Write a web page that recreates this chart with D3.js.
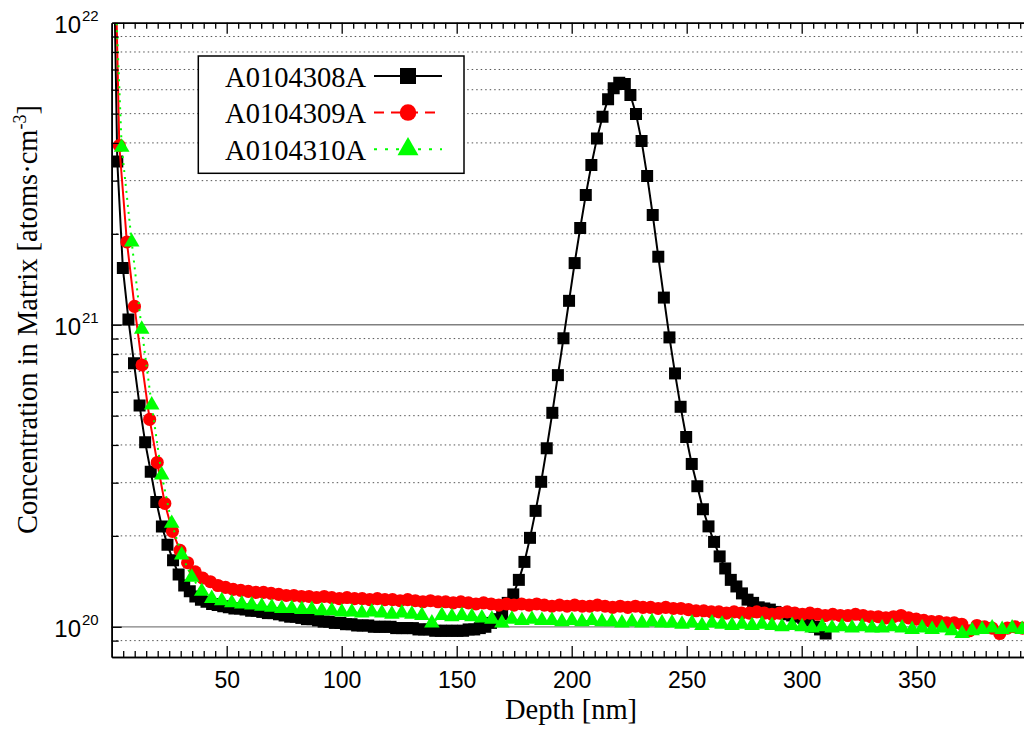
<!DOCTYPE html>
<html>
<head>
<meta charset="utf-8">
<script src="https://cdn.jsdelivr.net/npm/d3@7"></script>
<style>
  body { margin: 0; background: #fff; }
  svg { display: block; }
</style>
</head>
<body>
<svg id="chart" width="1024" height="740"></svg>
<script>
// ---- data -------------------------------------------------------------
const seriesNames = ["A0104308A", "A0104309A", "A0104310A"];

// depth sampling step of each profile (nm); every profile starts at 0 nm
const depthSteps = [2.425, 3.3, 4.35];

// concentration in matrix, atoms/cm^3
const conc308 = [
  4.5e22, 3.47e21, 1.54e21, 1.04e21, 7.45e20, 5.40e20, 4.08e20, 3.26e20, 2.59e20, 2.15e20,
  1.87e20, 1.66e20, 1.49e20, 1.37e20, 1.31e20, 1.26e20, 1.23e20, 1.21e20, 1.19e20, 1.18e20,
  1.17e20, 1.16e20, 1.15e20, 1.15e20, 1.14e20, 1.13e20, 1.13e20, 1.12e20, 1.11e20, 1.11e20,
  1.10e20, 1.09e20, 1.08e20, 1.08e20, 1.07e20, 1.06e20, 1.06e20, 1.05e20, 1.04e20, 1.04e20,
  1.03e20, 1.03e20, 1.02e20, 1.02e20, 1.01e20, 1.01e20, 1.01e20, 1.00e20, 1.00e20, 1.00e20,
  1.00e20, 9.9e19, 9.9e19, 9.9e19, 9.9e19, 9.8e19, 9.8e19, 9.8e19, 9.7e19, 9.7e19,
  9.7e19, 9.7e19, 9.7e19, 9.7e19, 9.8e19, 9.8e19, 9.9e19, 1.00e20, 1.03e20, 1.06e20,
  1.10e20, 1.20e20, 1.28e20, 1.43e20, 1.64e20, 1.97e20, 2.42e20, 3.02e20, 3.90e20, 5.11e20,
  6.81e20, 9.02e20, 1.20e21, 1.60e21, 2.09e21, 2.69e21, 3.38e21, 4.14e21, 4.88e21, 5.58e21,
  6.07e21, 6.33e21, 6.27e21, 5.76e21, 4.99e21, 4.06e21, 3.11e21, 2.31e21, 1.68e21, 1.23e21,
  9.08e20, 6.90e20, 5.35e20, 4.25e20, 3.46e20, 2.92e20, 2.45e20, 2.15e20, 1.91e20, 1.71e20,
  1.56e20, 1.43e20, 1.36e20, 1.29e20, 1.23e20, 1.20e20, 1.16e20, 1.15e20, 1.14e20, 1.12e20,
  1.11e20, 1.10e20, 1.09e20, 1.08e20, 1.07e20, 1.05e20, 1.00e20, 9.8e19, 9.5e19
];

const conc309 = [
  6.0e22, 3.92e21, 1.88e21, 1.15e21, 7.36e20, 4.86e20, 3.50e20, 2.56e20, 2.07e20, 1.79e20,
  1.63e20, 1.52e20, 1.45e20, 1.41e20, 1.37e20, 1.35e20, 1.33e20, 1.32e20, 1.31e20, 1.30e20,
  1.30e20, 1.29e20, 1.28e20, 1.27e20, 1.27e20, 1.26e20, 1.26e20, 1.25e20, 1.26e20, 1.25e20,
  1.24e20, 1.25e20, 1.24e20, 1.24e20, 1.23e20, 1.24e20, 1.23e20, 1.23e20, 1.22e20, 1.23e20,
  1.22e20, 1.21e20, 1.22e20, 1.21e20, 1.21e20, 1.20e20, 1.21e20, 1.20e20, 1.19e20, 1.20e20,
  1.19e20, 1.18e20, 1.19e20, 1.18e20, 1.19e20, 1.18e20, 1.19e20, 1.18e20, 1.17e20, 1.18e20,
  1.17e20, 1.18e20, 1.17e20, 1.17e20, 1.18e20, 1.17e20, 1.16e20, 1.17e20, 1.16e20, 1.17e20,
  1.16e20, 1.16e20, 1.15e20, 1.16e20, 1.15e20, 1.15e20, 1.14e20, 1.13e20, 1.13e20, 1.12e20,
  1.12e20, 1.11e20, 1.12e20, 1.11e20, 1.11e20, 1.12e20, 1.11e20, 1.10e20, 1.11e20, 1.12e20,
  1.11e20, 1.10e20, 1.11e20, 1.10e20, 1.09e20, 1.10e20, 1.09e20, 1.09e20, 1.10e20, 1.09e20,
  1.08e20, 1.08e20, 1.07e20, 1.08e20, 1.09e20, 1.07e20, 1.06e20, 1.05e20, 1.04e20, 1.04e20,
  1.03e20, 1.03e20, 1.02e20, 9.7e19, 1.01e20, 1.00e20, 9.9e19, 9.5e19, 9.9e19, 1.00e20,
  9.9e19
];

const conc310 = [
  2.6e22, 3.87e21, 1.88e21, 9.66e20, 5.42e20, 3.18e20, 2.20e20, 1.73e20, 1.46e20, 1.31e20,
  1.24e20, 1.22e20, 1.20e20, 1.19e20, 1.18e20, 1.17e20, 1.16e20, 1.15e20, 1.15e20, 1.14e20,
  1.14e20, 1.13e20, 1.13e20, 1.12e20, 1.12e20, 1.11e20, 1.12e20, 1.11e20, 1.10e20, 1.11e20,
  1.10e20, 1.09e20, 1.03e20, 1.09e20, 1.08e20, 1.09e20, 1.08e20, 1.07e20, 1.06e20, 1.03e20,
  1.06e20, 1.05e20, 1.06e20, 1.05e20, 1.05e20, 1.04e20, 1.05e20, 1.04e20, 1.05e20, 1.04e20,
  1.04e20, 1.03e20, 1.04e20, 1.03e20, 1.04e20, 1.03e20, 1.03e20, 1.02e20, 1.03e20, 1.01e20,
  1.03e20, 1.02e20, 1.01e20, 1.02e20, 1.01e20, 1.02e20, 1.01e20, 1.00e20, 1.01e20, 1.00e20,
  9.9e19, 1.00e20, 9.9e19, 1.00e20, 9.9e19, 1.00e20, 9.9e19, 9.9e19, 1.00e20, 9.9e19,
  9.8e19, 9.9e19, 9.8e19, 9.9e19, 9.7e19, 9.5e19, 9.7e19, 9.8e19, 9.9e19, 9.8e19,
  9.9e19, 9.8e19
];

const xTickValues = [50, 100, 150, 200, 250, 300, 350];
const yTickExponents = [20, 21, 22];

// ---- layout -----------------------------------------------------------
const svg = d3.select("#chart");
const plot = { left: 111.7, right: 1024.8, top: 22.7, bottom: 657 };

const x = d3.scaleLinear().domain([0, 397]).range([plot.left, plot.right]);
const y = d3.scaleLog().domain([Math.pow(10, 19.9), 1e22]).range([plot.bottom, plot.top]);

const serif = "'Liberation Serif', 'Times New Roman', Times, serif";
const sans = "'Liberation Sans', Arial, Helvetica, sans-serif";

const styles = [
  { color: "#000000", symbol: d3.symbolSquare, size: 144, legendSize: 256, dash: null, legendDash: null },
  { color: "#ff0000", symbol: d3.symbolCircle, size: 135, legendSize: 215, dash: null, legendDash: "10,7" },
  { color: "#00ff00", symbol: d3.symbolTriangle, size: 105, legendSize: 190, dash: "2,5", legendDash: "3,8" }
];

const series = [conc308, conc309, conc310].map((vals, k) =>
  vals.map((v, i) => ({ depth: i * depthSteps[k], value: v }))
);

// ---- grid lines -------------------------------------------------------
const minorY = [];
[19, 20, 21].forEach(e => {
  for (let m = 2; m <= 9; m++) {
    const v = m * Math.pow(10, e);
    if (v > Math.pow(10, 19.9) * 1.02 && v < 1e22) minorY.push(v);
  }
});
const majorY = [1e20, 1e21];

const grid = svg.append("g");
grid.selectAll("line.minor").data(minorY).join("line")
  .attr("x1", plot.left).attr("x2", plot.right)
  .attr("y1", d => y(d)).attr("y2", d => y(d))
  .attr("stroke", "#555").attr("stroke-width", 1)
  .attr("stroke-dasharray", "1.5,3");
grid.selectAll("line.major").data(majorY).join("line")
  .attr("x1", plot.left).attr("x2", plot.right)
  .attr("y1", d => y(d)).attr("y2", d => y(d))
  .attr("stroke", "#808080").attr("stroke-width", 1.3);

// ---- data -------------------------------------------------------------
svg.append("clipPath").attr("id", "plotClip")
  .append("rect")
  .attr("x", plot.left).attr("y", plot.top)
  .attr("width", plot.right - plot.left).attr("height", plot.bottom - plot.top);

const dataLayer = svg.append("g").attr("clip-path", "url(#plotClip)");
const line = d3.line().x(d => x(d.depth)).y(d => y(d.value));

series.forEach((pts, k) => {
  const st = styles[k];
  const g = dataLayer.append("g");
  g.append("path")
    .datum(pts)
    .attr("d", line)
    .attr("fill", "none")
    .attr("stroke", st.color)
    .attr("stroke-width", 2)
    .attr("stroke-dasharray", st.dash);
  g.selectAll("path.mark").data(pts).join("path")
    .attr("class", "mark")
    .attr("transform", d => `translate(${x(d.depth)},${y(d.value)})`)
    .attr("d", d3.symbol().type(st.symbol).size(st.size))
    .attr("fill", st.color);
});

// ---- axes -------------------------------------------------------------
const minorX = d3.range(5, 397, 5).filter(v => v % 50 !== 0);
const majorXTicks = d3.range(50, 397, 50);

function styleAxis(g) {
  g.selectAll(".domain").attr("stroke", "#000").attr("stroke-width", 1.6);
  g.selectAll(".tick line").attr("stroke", "#000").attr("stroke-width", 1.3);
}

// bottom
svg.append("g").attr("transform", `translate(0,${plot.bottom})`)
  .call(d3.axisBottom(x).tickValues(minorX).tickSizeInner(-6).tickSizeOuter(0).tickFormat(""))
  .call(styleAxis);
svg.append("g").attr("transform", `translate(0,${plot.bottom})`)
  .call(d3.axisBottom(x).tickValues(xTickValues).tickSizeInner(-11).tickSizeOuter(0)
    .tickPadding(15).tickFormat(d3.format("d")))
  .call(styleAxis)
  .call(g => g.selectAll(".tick text")
    .attr("font-family", sans).attr("font-size", 23).attr("fill", "#000"));

// top
svg.append("g").attr("transform", `translate(0,${plot.top})`)
  .call(d3.axisTop(x).tickValues(minorX).tickSizeInner(-6).tickSizeOuter(0).tickFormat(""))
  .call(styleAxis);
svg.append("g").attr("transform", `translate(0,${plot.top})`)
  .call(d3.axisTop(x).tickValues(majorXTicks).tickSizeInner(-11).tickSizeOuter(0).tickFormat(""))
  .call(styleAxis);

// left
svg.append("g").attr("transform", `translate(${plot.left},0)`)
  .call(d3.axisLeft(y).tickValues(minorY).tickSizeInner(-7).tickSizeOuter(0).tickFormat(""))
  .call(styleAxis);
svg.append("g").attr("transform", `translate(${plot.left},0)`)
  .call(d3.axisLeft(y).tickValues(majorY).tickSizeInner(-10).tickSizeOuter(0).tickFormat(""))
  .call(styleAxis);

// y tick labels as powers of ten
const yLabels = svg.append("g");
yTickExponents.forEach(e => {
  const yy = y(Math.pow(10, e));
  yLabels.append("text")
    .attr("x", 81).attr("y", yy + 10)
    .attr("text-anchor", "end")
    .attr("font-family", sans).attr("font-size", 24)
    .text("10");
  yLabels.append("text")
    .attr("x", 82).attr("y", yy - 2)
    .attr("text-anchor", "start")
    .attr("font-family", sans).attr("font-size", 15)
    .text(String(e));
});

// axis titles
svg.append("text")
  .attr("x", 571).attr("y", 719)
  .attr("text-anchor", "middle")
  .attr("font-family", serif).attr("font-size", 28.5)
  .text("Depth [nm]");

const yTitle = svg.append("text")
  .attr("transform", "translate(37,319.5) rotate(-90)")
  .attr("text-anchor", "middle")
  .attr("font-family", serif).attr("font-size", 28.5);
yTitle.append("tspan").text("Concentration in Matrix [atoms\u00b7cm");
yTitle.append("tspan").attr("dy", -11).attr("font-size", 18).text("-3");
yTitle.append("tspan").attr("dy", 11).text("]");

// ---- legend -----------------------------------------------------------
const legend = svg.append("g");
legend.append("rect")
  .attr("x", 198.3).attr("y", 56)
  .attr("width", 265.7).attr("height", 117.3)
  .attr("fill", "#fff").attr("stroke", "#000").attr("stroke-width", 1.5);

const rowY = [76, 112.6, 149.2];
seriesNames.forEach((name, k) => {
  const st = styles[k];
  const cy = rowY[k];
  legend.append("text")
    .attr("x", 366).attr("y", cy + 10.5)
    .attr("text-anchor", "end")
    .attr("font-family", serif).attr("font-size", 28.5)
    .text(name);
  legend.append("line")
    .attr("x1", 374).attr("x2", 442)
    .attr("y1", cy).attr("y2", cy)
    .attr("stroke", st.color).attr("stroke-width", 2)
    .attr("stroke-dasharray", st.legendDash);
  legend.append("path")
    .attr("transform", `translate(408,${cy})`)
    .attr("d", d3.symbol().type(st.symbol).size(st.legendSize))
    .attr("fill", st.color);
});
</script>
</body>
</html>
